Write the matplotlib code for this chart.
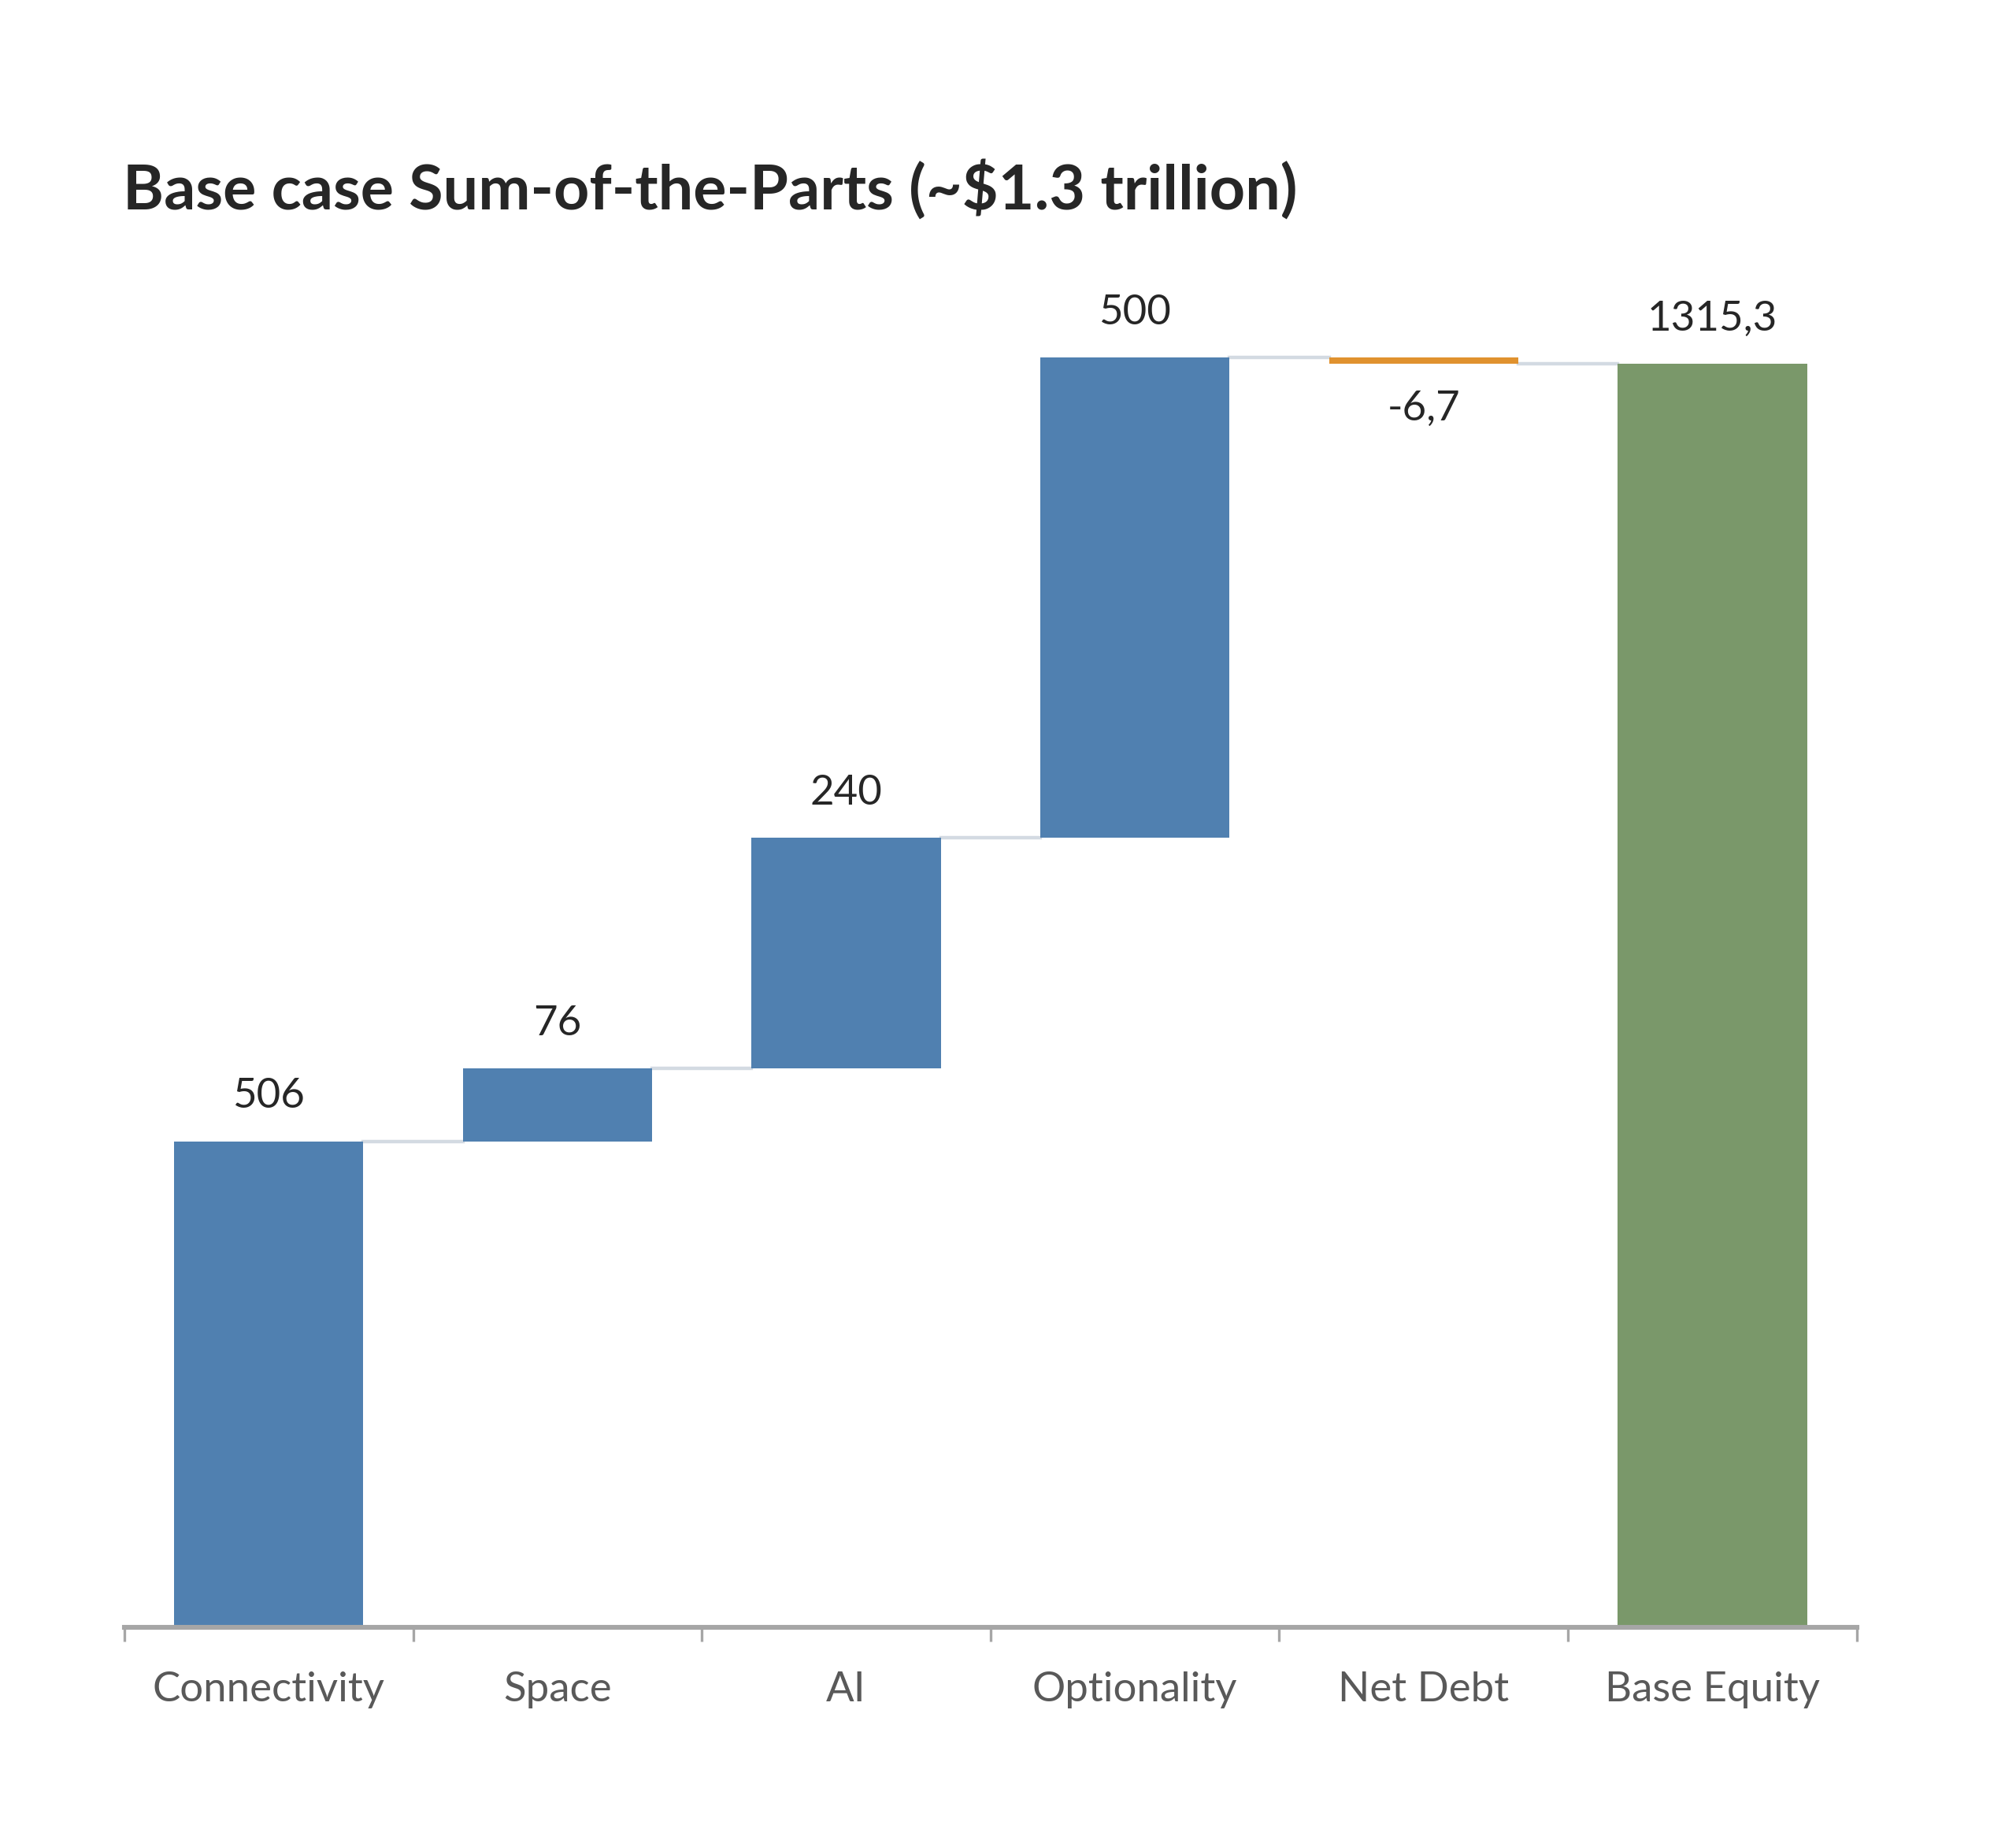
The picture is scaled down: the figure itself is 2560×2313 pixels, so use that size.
import matplotlib
matplotlib.use("Agg")
import matplotlib.pyplot as plt
import numpy as np

categories = ["Connectivity", "Space", "AI", "Optionality", "Net Debt", "Base Equity"]
deltas = [506, 76, 240, 500, -6.7]
total = 1315.3
title = "Base case Sum-of-the-Parts (~$1.3 trillion)"

blue = "#5080B0"
green = "#7A986A"
orange = "#E0922F"
connector = "#D3DAE2"
axis_grey = "#A6A6A6"
text_col = "#262626"
label_col = "#595959"


def fmt(v):
    s = ("%g" % round(v, 1))
    return s.replace(".", ",")


def main():
    plt.rcParams['font.family'] = ['Lato', 'DejaVu Sans']

    fig = plt.figure(figsize=(12.8, 11.565), dpi=200)
    ax = fig.add_axes([0.0617, 0.1063, 0.8593, 0.7597])

    starts = []
    level = 0
    for d in deltas:
        starts.append(level)
        level += d
    x = np.arange(len(categories))
    width = 0.655

    # step bars
    for i, d in enumerate(deltas):
        col = orange if d < 0 else blue
        ax.bar(x[i], d, bottom=starts[i], width=width, color=col, zorder=2)
    ax.bar(x[-1], total, width=width, color=green, zorder=2)

    # connectors
    ends = [s + d for s, d in zip(starts, deltas)]
    for i in range(len(categories) - 1):
        ax.plot([x[i] + width / 2, x[i + 1] - width / 2], [ends[i], ends[i]],
                color=connector, lw=1.6, zorder=1)

    # value labels
    for i, d in enumerate(deltas):
        if d >= 0:
            ax.annotate(fmt(d), (x[i], ends[i]), xytext=(0, 12), textcoords="offset points",
                        ha="center", va="bottom", fontsize=19, color=text_col)
        else:
            ax.annotate(fmt(d), (x[i], ends[i]), xytext=(0, -12), textcoords="offset points",
                        ha="center", va="top", fontsize=19, color=text_col)
    ax.annotate(fmt(total), (x[-1], total), xytext=(0, 12), textcoords="offset points",
                ha="center", va="bottom", fontsize=19, color=text_col)

    ax.set_xlim(-0.5, len(categories) - 0.5)
    ax.set_ylim(0, 1440)
    ax.set_yticks([])
    for side in ["top", "right", "left"]:
        ax.spines[side].set_visible(False)
    ax.spines["bottom"].set_color(axis_grey)
    ax.spines["bottom"].set_linewidth(2.2)

    ax.set_xticks(np.arange(-0.5, len(categories), 1.0))
    ax.set_xticklabels([])
    ax.set_xticks(x, minor=True)
    ax.set_xticklabels(categories, minor=True, fontsize=19, color=label_col)
    ax.tick_params(axis="x", which="major", length=6.5, width=1.2, color=axis_grey)
    ax.tick_params(axis="x", which="minor", length=0, pad=20)

    fig.text(0.061, 0.885, title, fontsize=28.5, fontweight="bold", color=text_col,
             ha="left", va="baseline")

    fig.savefig("out.png", dpi=200, facecolor="white")


if __name__ == "__main__":
    main()
